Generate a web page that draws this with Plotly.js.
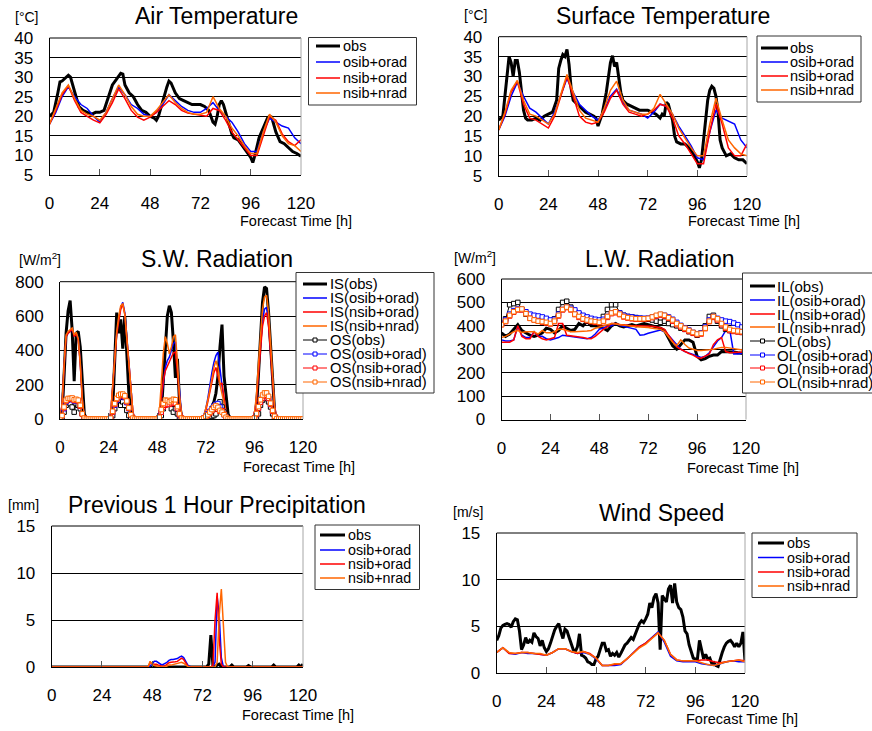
<!DOCTYPE html>
<html><head><meta charset="utf-8">
<script src="https://cdn.plot.ly/plotly-3.0.1.min.js"></script>
<style>html,body{margin:0;padding:0;background:#fff;}#chart{width:872px;height:731px;}</style>
</head><body><div id="chart"></div>
<script>
// ---------------- hours ----------------
const hourTicks = [0,24,48,72,96,120];
const H1 = [0,1,2,3,4,5,6,7,8,9,10,11,12,13,14,15,16,17,18,19,20,21,22,23,
 24,25,26,27,28,29,30,31,32,33,34,35,36,37,38,39,40,41,42,43,44,45,46,47,
 48,49,50,51,52,53,54,55,56,57,58,59,60,61,62,63,64,65,66,67,68,69,70,71,
 72,73,74,75,76,77,78,79,80,81,82,83,84,85,86,87,88,89,90,91,92,93,94,95,
 96,97,98,99,100,101,102,103,104,105,106,107,108,109,110,111,112,113,114,115,116,117,118,119,120];
const H2 = [0,2,4,6,8,10,12,14,16,18,20,22,24,26,28,30,32,34,36,38,40,42,44,46,48,50,52,54,56,58,
 60,62,64,66,68,70,72,74,76,78,80,82,84,86,88,90,92,94,96,98,100,102,104,106,108,110,112,114,116,118,120];
const H3 = [0,3,6,9,12,15,18,21,24,27,30,33,36,39,42,45,48,51,54,57,60,63,66,69,72,75,78,81,84,87,90,93,96,99,102,105,108,111,114,117,120];

const names4 = ['obs','osib+orad','nsib+orad','nsib+nrad'];
const swNames = ['IS(obs)','IS(osib+orad)','IS(nsib+orad)','IS(nsib+nrad)','OS(obs)','OS(osib+orad)','OS(nsib+orad)','OS(nsib+nrad)'];
const lwNames = ['IL(obs)','IL(osib+orad)','IL(nsib+orad)','IL(nsib+nrad)','OL(obs)','OL(osib+orad)','OL(nsib+orad)','OL(nsib+nrad)'];

// ---------------- Air temperature ----------------
const atTicks = [5,10,15,20,25,30,35,40];
const atObsH = [0,2,4,5,6,7,9,10,12,14,16,18,20,22,24,26,28,30,32,34,35,36,38,40,42,44,46,48,50,51,52,54,56,57,58,60,62,64,66,68,70,72,74,76,77,78,79,80,81,82,83,84,86,87,88,90,92,94,96,97,98,100,102,104,105,106,108,110,112,114,116,118,120];
const atObs = [20,21,26,28.8,29,29.5,30.5,30,26,22.5,21.5,21,20.5,21,21,21.5,24.5,28,29.5,31,30.8,28,26,25,23,21.5,21,20,19.5,19,20,24,27.5,29,28.5,26,24.5,24,23.5,23,23,23,22.5,21.5,20,18.5,18,20,23,24,23,21,17,15.5,14.5,14,12.5,11,9.5,8.2,10,14.5,17,19.5,20,19.8,16,13.5,13,12,11,10.5,9.8];
const atOsib = [18,21,25,27.5,25,23,22,20,18.5,21,24.5,27.5,25.5,23,22,20.5,20,21,23,25.5,24,22.5,21.5,21,21,22,23.5,21.5,20,18.5,16,13,11,11,16,19.5,18.5,17.5,17,14.5,13];
const atNsibOrad = [18,21.5,25.5,27.8,24,21,20,19,18.3,20.5,23.5,27,24.5,21.5,19.8,19,19.8,21,22.5,24,23,21.5,20.8,20.5,20.2,20,22,21.5,19,16,14,12,10,10,15,20,19,15.5,13.5,12.5,14];
const atNsibNrad = [18,22,26,28,24.5,21.5,20.5,20,19,21,24.5,28,25.5,22.5,20.5,20,20,21.5,23.5,25.5,23.5,22,21,20.5,20.5,21,25,22,20,17,15,12.5,10.5,10.5,16,20.5,18.5,15,13,12.5,11];

// ---------------- Surface temperature ----------------
const stTicks = [5,10,15,20,25,30,35,40];
const stObsH = [0,1,2,3,4,5,6,7,8,9,10,11,12,13,14,16,18,20,22,24,26,28,29,30,31,32,33,34,35,36,38,40,42,44,46,47,48,49,50,52,53,54,55,56,57,58,59,60,62,64,66,68,70,72,74,76,77,78,79,80,81,82,83,84,85,86,88,90,92,94,96,97,98,100,101,102,103,104,105,106,107,108,110,112,114,116,118,120];
const stObs = [19,19.5,20,25,31,35,33.5,30,34,34,31,26,21.5,19.5,19,19,19.5,19,20,20.5,21,24,32,34,35.5,35,36.8,33,27,24,23,22,21,20.5,20,19.5,17.5,19,20.5,26,30,33.5,35.2,32.5,33.5,30,26,24,23,22.5,22,21.5,21.5,21.5,21,20.5,20,19.5,20.5,20,23.5,23,21,19,15,13.5,13,13,12,10.5,8.5,7,9,20,24,26.5,27.5,27,25,21,14,12,10,10.5,9.5,9,9,8];
const stOsib = [16.5,20,25,28.5,25,22,21,19.5,18,21,25.5,29.5,26,23,21.5,20,19,21.5,25,26.8,23.5,21.5,21,20.5,19.5,21,23,22.5,20.5,17.5,15,12.5,9.5,9,16,21.5,19.5,18.8,18,14,12];
const stNsibOrad = [16.5,20.5,26,28.8,23,19.5,19,18,17,20,25,30,25,20,18.5,18,18.5,21,24.5,26.5,23,21,20.5,20,20.5,21.5,23,22.5,19.5,15,13,10.5,8,8,16,23,18,12,10,10,13];
const stNsibNrad = [16.5,21,26.5,29,24,20.5,20,19,18,20.5,25.5,30.5,26,21.5,19.5,19,18.5,22,26.5,28.8,24,21.5,21,20.5,20.5,22,25.5,23,20.5,17,14.5,12,10,10,18,24.5,19,14,12,10.5,10];

// ---------------- S.W. radiation (hourly) ----------------
const swTicks = [0,200,400,600,800];
const isObs = [0,20,250,500,630,690,520,220,500,510,420,200, 30,0,0,0,0,0,0,0,0,0,0,0,
 0,0,50,300,620,500,580,410,600,380,150,30, 0,0,0,0,0,0,0,0,0,0,0,0,
 0,0,30,200,420,600,660,620,450,240,350,100, 10,0,0,0,0,0,0,0,0,0,0,0,
 0,20,50,80,100,150,250,420,550,250,120,30, 0,0,0,0,0,0,0,0,0,0,0,0,
 0,50,250,480,680,770,760,620,400,180,40,0, 0,0,0,0,0,0,0,0,0,0,0,0, 0];
const isOsib = [0,80,300,480,500,510,520,490,500,470,330,120, 10,0,0,0,0,0,0,0,0,0,0,0,
 0,30,200,380,500,580,650,680,620,480,330,150, 40,0,0,0,0,0,0,0,0,0,0,0,
 0,20,120,220,300,340,360,400,440,450,300,130, 30,0,0,0,0,0,0,0,0,0,0,20,
 60,120,200,270,330,370,390,300,180,100,40,10, 0,0,0,0,0,0,0,0,0,0,0,0,
 30,120,280,450,570,640,650,560,380,200,70,10, 0,0,0,0,0,0,0,0,0,0,0,0, 0];
const isNsibOrad = [0,80,300,480,500,510,530,480,500,460,320,110, 10,0,0,0,0,0,0,0,0,0,0,0,
 0,30,190,370,490,570,640,670,610,470,320,140, 40,0,0,0,0,0,0,0,0,0,0,0,
 0,20,120,220,280,310,330,360,385,390,270,120, 30,0,0,0,0,0,0,0,0,0,0,15,
 50,100,160,220,270,300,250,200,210,120,40,10, 0,0,0,0,0,0,0,0,0,0,0,0,
 30,110,260,420,540,600,620,540,370,190,60,10, 0,0,0,0,0,0,0,0,0,0,0,0, 0];
const isNsibNrad = [0,80,310,490,510,520,530,490,505,470,330,120, 10,0,0,0,0,0,0,0,0,0,0,0,
 0,30,200,390,510,600,660,670,610,470,320,140, 40,0,0,0,0,0,0,0,0,0,0,0,
 0,30,200,380,480,440,380,420,480,490,330,140, 30,0,0,0,0,0,0,0,0,0,0,15,
 60,110,170,240,300,340,300,200,150,100,40,10, 0,0,0,0,0,0,0,0,0,0,0,0,
 30,140,320,500,640,710,720,620,420,220,70,10, 0,0,0,0,0,0,0,0,0,0,0,0, 0];
const osObs = [0,10,40,80,100,90,70,40,90,80,60,30, 5,0,0,0,0,0,0,0,0,0,0,0,
 0,0,20,60,100,110,80,100,80,50,20,5, 0,0,0,0,0,0,0,0,0,0,0,0,
 0,0,20,60,90,100,90,60,40,60,30,10, 0,0,0,0,0,0,0,0,0,0,0,0,
 0,0,10,15,20,30,80,100,70,40,20,5, 0,0,0,0,0,0,0,0,0,0,0,0,
 0,0,30,80,110,120,120,100,70,30,10,0, 0,0,0,0,0,0,0,0,0,0,0,0, 0];
const osOsib = [0,20,60,100,110,115,115,105,110,105,75,30, 5,0,0,0,0,0,0,0,0,0,0,0,
 0,5,40,80,110,125,135,135,125,95,60,25, 5,0,0,0,0,0,0,0,0,0,0,0,
 0,10,40,70,85,90,90,95,100,95,60,25, 5,0,0,0,0,0,0,0,0,0,0,5,
 15,30,45,60,75,85,90,70,50,25,10,2, 0,0,0,0,0,0,0,0,0,0,0,0,
 5,30,65,100,125,140,140,120,85,45,15,2, 0,0,0,0,0,0,0,0,0,0,0,0, 0];
const osNsibOrad = [0,20,65,105,115,118,120,108,112,105,75,28, 5,0,0,0,0,0,0,0,0,0,0,0,
 0,5,40,85,115,130,140,140,130,100,62,25, 5,0,0,0,0,0,0,0,0,0,0,0,
 0,10,40,70,80,85,85,90,95,92,60,25, 5,0,0,0,0,0,0,0,0,0,0,5,
 12,22,35,48,60,68,58,45,48,28,10,2, 0,0,0,0,0,0,0,0,0,0,0,0,
 5,28,62,98,122,135,138,120,85,45,15,2, 0,0,0,0,0,0,0,0,0,0,0,0, 0];
const osNsibNrad = [0,20,70,110,120,120,122,112,115,110,80,30, 5,0,0,0,0,0,0,0,0,0,0,0,
 0,5,45,90,120,138,145,145,135,105,65,25, 5,0,0,0,0,0,0,0,0,0,0,0,
 0,10,55,90,110,108,100,108,115,112,72,30, 5,0,0,0,0,0,0,0,0,0,0,5,
 15,25,40,55,68,78,68,50,40,25,10,2, 0,0,0,0,0,0,0,0,0,0,0,0,
 5,32,72,112,140,152,152,132,92,50,16,2, 0,0,0,0,0,0,0,0,0,0,0,0, 0];

// ---------------- L.W. radiation (2-hourly) ----------------
const lwTicks = [0,100,200,300,400,500,600];
const ilObs = [370,355,365,385,405,380,370,360,355,360, 370,390,385,370,380,400,390,380,385,410,
 400,420,400,400,395,390,380,400,410,400, 395,400,405,400,405,410,405,400,395,390,
 380,350,315,300,320,340,340,330,270,255, 260,270,275,275,290,290,290,288,285,282, 280];
const ilOsib = [340,335,335,340,398,360,350,350,375,355, 355,345,340,345,350,360,358,355,352,350,
 348,345,350,365,385,392,398,400,410,402, 398,395,392,385,360,362,368,372,378,382,
 375,360,340,320,300,290,285,278,270,265, 270,285,310,335,350,380,385,280,280,282, 285];
const ilNsibOrad = [330,330,330,340,400,355,345,345,375,355, 345,340,345,350,410,410,360,358,355,352,
 350,346,345,355,370,385,395,410,410,405, 405,402,400,400,400,400,400,398,395,392,
 385,360,330,310,300,290,282,275,265,262, 270,280,320,340,350,290,285,285,285,288, 370];
const ilNsibNrad = [350,355,365,375,380,372,375,375,375,365, 380,370,370,375,385,385,380,375,375,375,
 375,378,380,390,395,400,405,410,408,405, 402,400,398,396,395,395,393,390,388,385,
 375,350,330,315,340,320,305,300,295,295, 295,298,300,305,308,308,305,302,300,298, 295];
const olObs = [410,430,490,495,500,470,450,445,440,430, 425,420,420,430,470,500,505,480,460,450,
 440,435,428,425,420,440,470,490,490,455, 445,440,438,435,432,430,428,425,420,415,
 420,410,405,400,390,385,375,370,360,370, 400,440,445,420,400,385,380,378,375,372, 370];
const olOsib = [410,425,450,465,472,470,460,450,445,442, 438,432,425,428,450,470,480,475,468,455,
 445,438,432,428,425,428,440,455,460,455, 445,440,438,435,433,432,433,438,442,448,
 445,438,428,415,402,392,382,372,365,370, 395,425,440,432,425,420,418,412,405,395, 390];
const olNsibOrad = [405,418,442,458,468,468,452,432,425,420, 416,412,408,418,442,468,478,468,448,436,
 428,422,418,415,413,418,436,452,456,448, 438,433,430,428,428,428,430,435,442,446,
 442,432,420,405,395,385,376,368,362,365, 388,418,436,425,405,390,380,376,374,372, 372];
const olNsibNrad = [405,420,445,460,470,472,452,432,425,420, 418,415,410,420,445,470,480,470,450,440,
 430,425,420,418,415,420,440,455,460,450, 440,435,432,430,430,430,432,438,445,450,
 445,435,425,410,400,390,380,372,365,368, 390,420,440,430,410,395,385,380,378,375, 375];

// ---------------- Precipitation ----------------
const prTicks = [0,5,10,15];
const prObsH = [0,74,75,76,77,78,79,80,81,85,86,87,93,94,95,105,106,107,117,118,119,120];
const prObs  = [0,0,0.3,3.4,0.1,0,0.2,0.3,0,0,0.2,0,0,0.15,0,0,0.2,0,0,0.2,0,0.3];
const prOsibH = [0,46,47,48,49,50,51,52,53,54,55,56,57,58,59,60,61,62,63,64,65,66,67,76,77,78,79,80,81,82,120];
const prOsib  = [0,0,0.1,0.4,0.6,0.6,0.45,0.3,0.25,0.35,0.5,0.7,0.8,0.8,0.85,0.9,1.05,1.15,1.0,0.6,0.2,0.05,0,0,0.1,0.5,7.5,5.5,1,0,0];
const prNsibOradH = [0,46,47,48,49,50,51,52,53,54,55,56,57,58,59,60,61,62,63,64,65,66,76,77,78,79,80,81,82,120];
const prNsibOrad  = [0,0,0.5,0.35,0.3,0.3,0.2,0.1,0.05,0.1,0.25,0.45,0.5,0.5,0.55,0.6,0.8,0.95,0.8,0.4,0.1,0,0,0.2,5,7.9,3,0.3,0,0];
const prNsibNradH = [0,46,47,48,49,50,51,52,54,55,56,57,58,59,60,61,62,63,64,65,66,78,79,80,81,82,83,84,120];
const prNsibNrad  = [0,0,0.6,0.3,0.15,0.1,0.05,0,0,0.1,0.2,0.2,0.25,0.3,0.35,0.45,0.5,0.4,0.2,0.05,0,0,0.5,5.5,8.3,4,0.5,0,0];

// ---------------- Wind speed ----------------
const wsTicks = [0,5,10,15];
const wsObs = [3.5,4.0,4.8,5.1,5.2,5.3,5.2,4.9,5.5,5.8,5.7,4.5,
 2.5,3.0,3.8,3.2,3.5,3.3,4.3,3.9,3.7,2.9,3.5,2.7,
 2.3,2.6,3.2,4.0,4.6,5.0,5.3,4.4,3.7,4.7,4.5,3.8,
 3.2,2.5,2.3,2.8,4.2,1.9,1.8,1.6,1.2,1.1,0.9,0.9,
 1.5,1.8,2.5,3.2,3.2,2.4,2.5,1.8,2.1,1.9,2.2,1.7,
 2.1,2.5,3.0,3.2,3.5,3.8,3.6,4.2,4.6,5.3,5.6,5.4,
 5.8,6.3,7.5,7.0,8.1,8.5,7.5,2.5,8.3,8.0,7.6,9.0,
 9.4,7.5,9.6,7.6,7.0,6.8,6.0,4.5,4.2,3.0,2.2,1.6,
 1.5,1.5,3.5,2.5,1.5,2.0,1.5,1.6,1.0,1.1,0.8,0.7,
 1.5,2.2,2.8,3.2,3.4,3.5,3.2,2.8,3.2,2.8,3.2,4.4, 1.3];
const wsOsib = [2.2,2.7,2.1,2.0,2.2,2.1,2.1,2.0,1.9,2.2,2.6,2.6,2.3,2.1,2.2,2.0,1.5,0.8,0.8,0.8,0.9,1.5,2.2,2.8,3.2,3.8,4.4,3.3,1.8,1.3,1.2,1.2,1.2,1.0,0.9,0.8,1.0,1.2,1.3,1.2,1.2];
const wsNsibOrad = [2.2,2.7,2.1,2.1,2.2,2.2,2.1,2.0,1.9,2.2,2.6,2.6,2.3,2.1,2.3,2.1,1.6,0.8,0.8,0.9,1.0,1.5,2.2,2.8,3.2,3.8,4.3,3.5,2.0,1.4,1.3,1.3,1.3,1.4,1.4,1.2,1.1,1.2,1.3,1.4,1.3];
const wsNsibNrad = [2.2,2.7,2.2,2.1,2.2,2.2,2.1,2.1,1.9,2.2,2.6,2.6,2.3,2.2,2.3,2.0,1.6,0.8,0.8,1.0,1.0,1.5,2.1,2.7,3.1,3.7,4.3,3.5,2.0,1.4,1.3,1.3,1.3,1.1,0.9,0.8,1.0,1.2,1.3,1.4,1.2];

// ---------------- build ----------------
const W = 872, HT = 731;
const FONT = 'Liberation Sans, Arial, sans-serif';
const COLORS = ['#000000','#0000ff','#ff0000','#ff6600'];
const px = v => v / W, py = v => 1 - v / HT;

const traces = [];
function line(n, x, y, ci, name, opts) {
  opts = opts || {};
  const t = {type:'scatter', mode: opts.markers ? 'lines+markers' : 'lines', x, y, name,
    xaxis: n === 1 ? 'x' : 'x' + n, yaxis: n === 1 ? 'y' : 'y' + n,
    line:{color:COLORS[ci], width: opts.w || 1.5}, hoverinfo:'skip', showlegend:false};
  if (opts.markers) t.marker = {symbol:'square', size:4.5, color:'#ffffff', line:{color:COLORS[ci], width:1}};
  traces.push(t);
}
// panel 1
line(1, atObsH, atObs, 0, names4[0], {w:3});
line(1, H3, atOsib, 1, names4[1]);
line(1, H3, atNsibOrad, 2, names4[2]);
line(1, H3, atNsibNrad, 3, names4[3]);
// panel 2
line(2, stObsH, stObs, 0, names4[0], {w:3});
line(2, H3, stOsib, 1, names4[1]);
line(2, H3, stNsibOrad, 2, names4[2]);
line(2, H3, stNsibNrad, 3, names4[3]);
// panel 3
line(3, H1, isObs, 0, swNames[0], {w:3});
line(3, H1, isOsib, 1, swNames[1]);
line(3, H1, isNsibOrad, 2, swNames[2]);
line(3, H1, isNsibNrad, 3, swNames[3]);
line(3, H1, osObs, 0, swNames[4], {w:1, markers:true});
line(3, H1, osOsib, 1, swNames[5], {w:1, markers:true});
line(3, H1, osNsibOrad, 2, swNames[6], {w:1, markers:true});
line(3, H1, osNsibNrad, 3, swNames[7], {w:1, markers:true});
// panel 4
line(4, H2, ilObs, 0, lwNames[0], {w:3});
line(4, H2, ilOsib, 1, lwNames[1]);
line(4, H2, ilNsibOrad, 2, lwNames[2]);
line(4, H2, ilNsibNrad, 3, lwNames[3]);
line(4, H2, olObs, 0, lwNames[4], {w:1, markers:true});
line(4, H2, olOsib, 1, lwNames[5], {w:1, markers:true});
line(4, H2, olNsibOrad, 2, lwNames[6], {w:1, markers:true});
line(4, H2, olNsibNrad, 3, lwNames[7], {w:1, markers:true});
// panel 5
line(5, prObsH, prObs, 0, names4[0], {w:3});
line(5, prOsibH, prOsib, 1, names4[1]);
line(5, prNsibOradH, prNsibOrad, 2, names4[2]);
line(5, prNsibNradH, prNsibNrad, 3, names4[3]);
// panel 6
line(6, H1, wsObs, 0, names4[0], {w:3});
line(6, H3, wsOsib, 1, names4[1]);
line(6, H3, wsNsibOrad, 2, names4[2]);
line(6, H3, wsNsibNrad, 3, names4[3]);

// layout per panel (pixel boxes)
const panels = [
  {x:[49.5,301], y:[38,175], ticks:atTicks, title:'Air Temperature', tp:[216,16], unit:'[°C]', up:[27,17], fp:[296,221],
   leg:{box:[308.5,37.5,416.5,105], s:[316,340], tx:342, rows:[46,62,78,93], fs:14.5, names:names4}},
  {x:[498.7,747], y:[36.7,175.7], ticks:stTicks, title:'Surface Temperature', tp:[663,16], unit:'[°C]', up:[476,15], fp:[743.5,221],
   leg:{box:[757,36,861,102], s:[761,788], tx:789, rows:[48,62,76,90], fs:14.5, names:names4}},
  {x:[60,303], y:[281.7,419], ticks:swTicks, title:'S.W. Radiation', tp:[217,259], unit:'[W/m<sup>2</sup>]', up:[40,259], fp:[299,467],
   leg:{box:[296,272.5,434,393], s:[303,327], tx:329, rows:[284,298,312,326,340,354,368,382], fs:14.8, names:swNames}},
  {x:[501.5,746], y:[279,419.5], ticks:lwTicks, title:'L.W. Radiation', tp:[660,259], unit:'[W/m<sup>2</sup>]', up:[475,257], fp:[742.5,468],
   leg:{box:[742.5,273,880,393], s:[750,775], tx:776, rows:[286,300,314,327,341,355,368,382], fs:15, names:lwNames}},
  {x:[51.7,303], y:[526,667], ticks:prTicks, title:'Previous 1 Hour Precipitation', tp:[217,505], unit:'[mm]', up:[23,505], fp:[298,715],
   leg:{box:[315,525,419.5,589.5], s:[320,345], tx:347, rows:[535,550,564,578], fs:14.3, names:names4}},
  {x:[496.7,745], y:[533,673], ticks:wsTicks, title:'Wind Speed', tp:[661,513], unit:'[m/s]', up:[468,512], fp:[741.5,719],
   leg:{box:[752,533,857,597.5], s:[758,784], tx:786, rows:[543,557.5,572,586], fs:14.3, names:names4}}
];

const layout = {width:W, height:HT, margin:{l:0,r:0,t:0,b:0}, paper_bgcolor:'#fff', plot_bgcolor:'#fff',
  showlegend:false, hovermode:false, font:{family:FONT, color:'#000'}, shapes:[], annotations:[]};

panels.forEach((p, i) => {
  const n = i + 1, xs = n === 1 ? '' : String(n);
  layout['xaxis' + xs] = {domain:[px(p.x[0]), px(p.x[1])], anchor:'y' + xs, range:[0,120], tickvals:hourTicks,
    ticks:'inside', ticklen:6, tickwidth:1, tickcolor:'#555', showline:true, linecolor:'#000', linewidth:1,
    showgrid:false, zeroline:false, tickfont:{family:FONT, size:17, color:'#000'}, ticklabelstandoff:13, fixedrange:true};
  layout['yaxis' + xs] = {domain:[py(p.y[1]), py(p.y[0])], anchor:'x' + xs,
    range:[p.ticks[0], p.ticks[p.ticks.length-1]], tickvals:p.ticks, ticks:'', showline:true, linecolor:'#000', linewidth:1,
    showgrid:true, gridcolor:'#000', gridwidth:1, zeroline:false, tickfont:{family:FONT, size:17, color:'#000'},
    ticklabelstandoff:12, fixedrange:true};
  // plot-area border: top black, right grey
  layout.shapes.push({type:'line', xref:'x' + xs + ' domain', yref:'y' + xs + ' domain', x0:0, x1:1, y0:1, y1:1, line:{color:'#000', width:1}, layer:'above'});
  layout.shapes.push({type:'line', xref:'x' + xs + ' domain', yref:'y' + xs + ' domain', x0:1, x1:1, y0:0, y1:1, line:{color:'#a6a6a6', width:1}, layer:'above'});
  // texts
  layout.annotations.push({xref:'paper', yref:'paper', x:px(p.tp[0]), y:py(p.tp[1]), text:p.title, showarrow:false,
    xanchor:'center', yanchor:'middle', font:{family:FONT, size:23, color:'#000'}});
  layout.annotations.push({xref:'paper', yref:'paper', x:px(p.up[0]), y:py(p.up[1]), text:p.unit, showarrow:false,
    xanchor:'center', yanchor:'middle', font:{family:FONT, size:14, color:'#000'}});
  layout.annotations.push({xref:'paper', yref:'paper', x:px(p.fp[0]), y:py(p.fp[1]), text:'Forecast Time [h]', showarrow:false,
    xanchor:'center', yanchor:'middle', font:{family:FONT, size:14.5, color:'#000'}});
  // legend box
  const L = p.leg;
  layout.shapes.push({type:'rect', xref:'paper', yref:'paper', x0:px(L.box[0]), x1:px(L.box[2]), y0:py(L.box[3]), y1:py(L.box[1]),
    line:{color:'#333', width:1}, fillcolor:'#fff', layer:'above'});
  L.names.forEach((nm, k) => {
    const ci = k % 4, isObsEntry = ci === 0, marked = k >= 4;
    const w = (isObsEntry && !marked) ? 3 : (marked ? 1 : 1.5);
    layout.shapes.push({type:'line', xref:'paper', yref:'paper', x0:px(L.s[0]), x1:px(L.s[1]), y0:py(L.rows[k]), y1:py(L.rows[k]),
      line:{color:COLORS[ci], width:w}, layer:'above'});
    if (marked) {
      const cx = (L.s[0] + L.s[1]) / 2, cy = L.rows[k];
      layout.shapes.push({type:'rect', xref:'paper', yref:'paper', x0:px(cx-2), x1:px(cx+2), y0:py(cy+2), y1:py(cy-2),
        line:{color:COLORS[ci], width:1}, fillcolor:'#fff', layer:'above'});
    }
    layout.annotations.push({xref:'paper', yref:'paper', x:px(L.tx), y:py(L.rows[k]), text:nm, showarrow:false,
      xanchor:'left', yanchor:'middle', borderpad:0, font:{family:FONT, size:L.fs, color:'#000'}});
  });
});

Plotly.newPlot('chart', traces, layout, {staticPlot:true, displayModeBar:false});
</script></body></html>
